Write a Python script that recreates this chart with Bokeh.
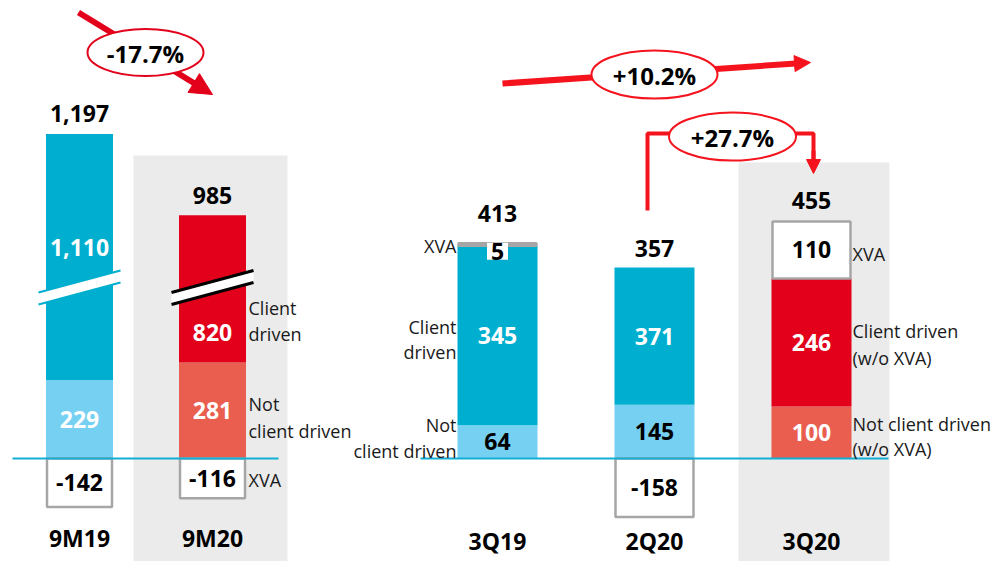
import numpy as np
from bokeh.plotting import figure
from bokeh.models import Range1d
from bokeh.embed import file_html
from bokeh.resources import INLINE
from bokeh.core.properties import value

# ---------------- data ----------------
left_categories = ["9M19", "9M20"]
left_not_client = [229, 281]
left_client = [1110, 820]
left_xva = [-142, -116]
left_totals = [1197, 985]

right_categories = ["3Q19", "2Q20", "3Q20"]
right_not_client = [64, 145, 100]
right_client = [345, 371, 246]
right_xva = [5, -158, 110]
right_totals = [413, 357, 455]

change_labels = ["-17.7%", "+10.2%", "+27.7%"]

left_side_labels = ["Client", "driven", "Not", "client driven", "XVA"]
q319_side_labels = ["XVA", "Client", "driven", "Not", "client driven"]
q320_side_labels = ["XVA", "Client driven", "(w/o XVA)", "Not client driven", "(w/o XVA)"]

# ---------------- layout / style ----------------
W, H = 990, 561
PAGE = 0
BASE = 458                     # zero line, page pixels
BOT = PAGE + H
FONT = value("Open Sans")
BLUE = {"nc": "#76D0F2", "cl": "#00AECF"}
RED = {"nc": "#E95E4F", "cl": "#E2001A"}
BOX_LINE = "#A6A6A6"
BG = "#EBEBEB"
TXT = "#1A1A1A"
ARROW = "#F5141E"
BREAK_CUT = 390                # units removed from the broken bars
BREAK_Y = 500                  # where the break sits (left scale units)

SCALES = {"left": 0.342, "main": 0.52, "q2": 0.37}


def scale_range(s):
    return Range1d(-(BOT - BASE) / s, (BASE - PAGE) / s)


p = figure(width=W, height=H, x_range=Range1d(PAGE, PAGE + W),
           y_range=Range1d(BOT, PAGE), output_backend="svg",
           toolbar_location=None, min_border=0,
           x_axis_location=None, y_axis_location=None,
           outline_line_color=None, background_fill_color="white",
           border_fill_color="white")
p.grid.grid_line_color = None
p.grid.visible = False
p.extra_y_ranges = {k: scale_range(v) for k, v in SCALES.items()}

# background highlight bands (page pixel coords)
p.quad(left=[133, 738], right=[287, 889], top=[155, 162], bottom=[BOT, BOT],
       fill_color=BG, line_color=None)

# ---------------- bars ----------------
bars = []
for i, c in enumerate(left_categories):
    bars.append(dict(cat=c, x=79 + i * 133, w=67, nc=left_not_client[i],
                     cl=left_client[i], xva=left_xva[i], tot=left_totals[i],
                     rng="left", pal=[BLUE, RED][i], nc_col="white",
                     gap=[20, 20][i], broken=True,
                     cl_label_y=[617, 368][i], cat_y=537))
for i, c in enumerate(right_categories):
    bars.append(dict(cat=c, x=497 + i * 157, w=80, nc=right_not_client[i],
                     cl=right_client[i], xva=right_xva[i], tot=right_totals[i],
                     rng=["main", "q2", "main"][i], pal=[BLUE, BLUE, RED][i],
                     nc_col=["black", "black", "white"][i],
                     gap=[30, 19, 21][i], broken=False, cl_label_y=None,
                     cat_y=540))

num_kw = dict(text_font=FONT, text_font_style="bold", text_font_size="23px",
              text_align="center")

for b in bars:
    rng, s, x, w = b["rng"], SCALES[b["rng"]], b["x"], b["w"]
    cut = BREAK_CUT if b["broken"] else 0
    nc = b["nc"]
    cl_top = nc + b["cl"] - cut
    p.vbar(x=[x], width=w, bottom=[0], top=[nc], fill_color=b["pal"]["nc"],
           line_color=None, y_range_name=rng)
    p.vbar(x=[x], width=w, bottom=[nc], top=[cl_top], fill_color=b["pal"]["cl"],
           line_color=None, y_range_name=rng)
    if b["xva"] < 0:
        xb, xt = b["xva"], 0
    else:
        xb, xt = cl_top, cl_top + b["xva"]
    p.vbar(x=[x], width=w - 2, bottom=[xb], top=[xt], fill_color="white",
           line_color=BOX_LINE, line_width=2.5, y_range_name=rng)

    # break marks
    if b["broken"]:
        dy = 32
        half = 17.5
        xs = [x - 41, x + 41, x + 41, x - 41]
        ys = [BREAK_Y - dy - half, BREAK_Y + dy - half, BREAK_Y + dy + half, BREAK_Y - dy + half]
        p.patch(xs, ys, fill_color="white", line_color=None, y_range_name=rng)
        lc = b["pal"]["cl"] if b["pal"] is BLUE else "black"
        lw = 2 if b["pal"] is BLUE else 3
        for sgn in (-1, 1):
            p.line([x - 41, x + 41], [BREAK_Y - dy + sgn * half, BREAK_Y + dy + sgn * half],
                   line_color=lc, line_width=lw, y_range_name=rng)

    # labels
    pos_top = max(cl_top, xt)
    p.text(x=[x], y=[pos_top], text=[f"{b['tot']:,}"], y_offset=-b["gap"],
           text_baseline="alphabetic", text_color="black", y_range_name=rng, **num_kw)
    cly = b["cl_label_y"] if b["cl_label_y"] is not None else (nc + cl_top) / 2
    p.text(x=[x], y=[cly], text=[f"{b['cl']:,}"], text_baseline="middle",
           text_color="white", y_range_name=rng, **num_kw)
    p.text(x=[x], y=[nc / 2], text=[f"{nc:,}"], text_baseline="middle",
           text_color=b["nc_col"], y_range_name=rng, **num_kw)
    if abs(b["xva"]) * s < 20:
        ly = xt - 8 / s
        p.rect(x=[x], y=[ly], width=21, height=17, width_units="screen",
               height_units="screen", fill_color="white", line_color=None,
               y_range_name=rng)
    else:
        ly = (xb + xt) / 2
    p.text(x=[x], y=[ly], text=[f"{b['xva']:,}"], text_baseline="middle",
           text_color="black", y_range_name=rng, **num_kw)
    p.text(x=[x], y=[b["cat_y"]], text=[b["cat"]], text_baseline="middle",
           text_color="black", **num_kw)

# zero lines
p.segment(x0=[12, 420], x1=[278, 888], y0=[BASE, BASE], y1=[BASE, BASE],
          line_color="#12AED4", line_width=2)

# ---------------- side labels ----------------
side_kw = dict(text_font=FONT, text_font_size="18px", text_color=TXT,
               text_baseline="middle")
p.text(x=[248] * 5, y=[307, 333, 403, 430, 479], text=left_side_labels,
       text_align="left", **side_kw)
p.text(x=[456] * 5, y=[245, 326, 351, 424, 450], text=q319_side_labels,
       text_align="right", **side_kw)
p.text(x=[852] * 5, y=[253, 330, 357, 423, 448], text=q320_side_labels,
       text_align="left", **side_kw)


# ---------------- change arrows ----------------
def head(x0, y0, x1, y1, length, half):
    d = np.array([x1 - x0, y1 - y0], dtype=float)
    d /= np.hypot(*d)
    n = np.array([-d[1], d[0]])
    tip = np.array([x1, y1], dtype=float)
    base = tip - d * length
    pts = [tip, base + n * half, base - n * half]
    return [q[0] for q in pts], [q[1] for q in pts], base + d * 1.5


def arrow(x0, y0, x1, y1, length, half, width, color):
    hx, hy, bse = head(x0, y0, x1, y1, length, half)
    p.line([x0, bse[0]], [y0, bse[1]], line_color=color, line_width=width)
    p.patch(hx, hy, fill_color=color, line_color=color, line_width=1)


arrow(78, 12, 212, 94, 22, 11, 6, "#E2001A")
arrow(502, 83, 810, 62, 16, 8, 6, ARROW)
p.line([647, 647, 813, 813], [210, 133, 133, 160], line_color=ARROW, line_width=4)
arrow(813, 150, 813, 173, 14, 7, 4, ARROW)

p.ellipse(x=[145, 654, 732], y=[52, 74, 136], width=[116, 126, 127],
          height=[47, 48, 48], width_units="screen", height_units="screen",
          fill_color="white", line_color=["#E2001A", ARROW, ARROW], line_width=2)
p.text(x=[145, 654, 732], y=[53, 75, 137], text=change_labels,
       text_font=FONT, text_font_style="bold", text_font_size="24px",
       text_align="center", text_baseline="middle", text_color="black")

open("out.html", "w").write(file_html(p, INLINE))
